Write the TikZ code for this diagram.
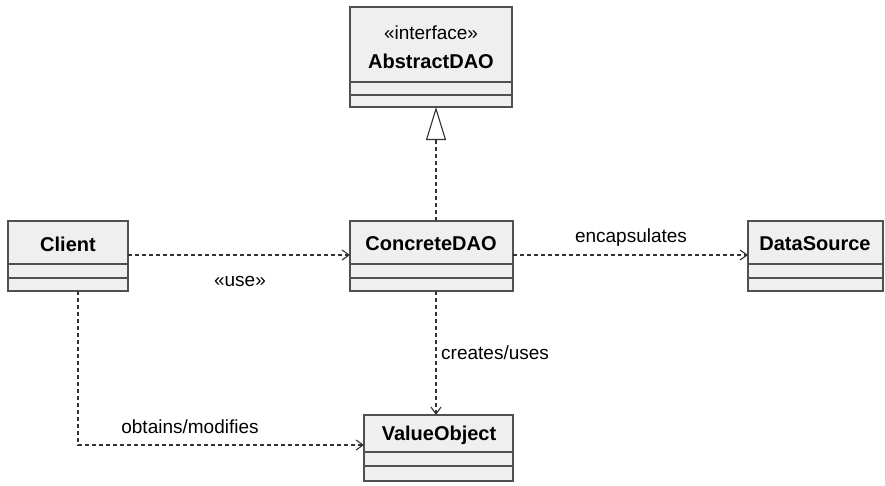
\documentclass[tikz,border=0pt]{standalone}
\usepackage{fontspec}
\setmainfont{Liberation Sans}
\usetikzlibrary{arrows.meta}
\definecolor{boxfill}{HTML}{EFEFEF}
\definecolor{boxline}{HTML}{505050}
\begin{document}
\begin{tikzpicture}[x=1pt,y=-1pt,
  txt/.style={font=\fontsize{19}{22}\selectfont, inner sep=0pt},
  cname/.style={font=\fontsize{20}{23}\selectfont\bfseries, inner sep=0pt},
  classbox/.style={draw=boxline, fill=boxfill, line width=1.1pt},
  divider/.style={draw=boxline, line width=1.1pt},
  dep/.style={draw=black!80, line width=1.1pt, dash pattern=on 4pt off 3pt,
    -{Straight Barb[length=7pt,width=10pt,line width=1.1pt]}},
  real/.style={draw=black!80, line width=1.1pt, dash pattern=on 4pt off 3pt,
    -{Triangle[open,length=33pt,width=20pt,line width=1.1pt]}}
]
\useasboundingbox[fill=white] (0,0) rectangle (885,485);

% class boxes: name compartment, attributes, operations
\newcommand{\umlclass}[7]{%
  \path[classbox] (#2,#3) rectangle (#4,#7);
  \node[inner sep=0pt, minimum size=0pt] (#1) at ({(#2+#4)/2},{(#3+#7)/2}) {};
  \path[divider] (#2,#5) -- (#4,#5);
  \path[divider] (#2,#6) -- (#4,#6);
}

\umlclass{abstract}{350}{7}{512}{82}{95}{107}
\umlclass{client}{8}{221}{128}{264}{278}{291}
\umlclass{concrete}{350}{221}{513}{264}{278}{291}
\umlclass{source}{748}{221}{883}{264}{278}{291}
\umlclass{value}{364}{415}{513}{452}{466}{481}

\node[txt] (stereo) at (431,33) {«interface»};
\node[cname] (abstractname) at (431,61) {AbstractDAO};
\node[cname] (clientname) at (68,244) {Client};
\node[cname] (concretename) at (431,244) {ConcreteDAO};
\node[cname] (sourcename) at (815,244) {DataSource};
\node[cname] (valuename) at (439,435) {ValueObject};

% connection points on the class boxes
\coordinate (cd-top) at (436,221);
\coordinate (ad-bot) at (436,107);
\coordinate (cd-bot) at (436,291);
\coordinate (vo-top) at (436,415);
\coordinate (cl-out) at (128,255);
\coordinate (cd-in) at (350,255);
\coordinate (cd-out) at (513,255);
\coordinate (ds-in) at (748,255);
\coordinate (cl-bot) at (78,291);
\coordinate (bend) at (78,445);
\coordinate (vo-in) at (364,445);

% realization and dependencies
\draw[real] (cd-top) -- (ad-bot);
\draw[dep] (cl-out) -- (cd-in);
\draw[dep] (cd-out) -- (ds-in);
\draw[dep] (cd-bot) -- (vo-top);
\draw[dep] (cl-bot) -- (bend) -- (vo-in);

% connector labels
\node[txt] (uselbl) at (240,281) {«use»};
\node[txt] (enclbl) at (631,238) {encapsulates};
\node[txt, anchor=west] (crlbl) at (441,353) {creates/uses};
\node[txt] (oblbl) at (190,427) {obtains/modifies};
\end{tikzpicture}
\end{document}
